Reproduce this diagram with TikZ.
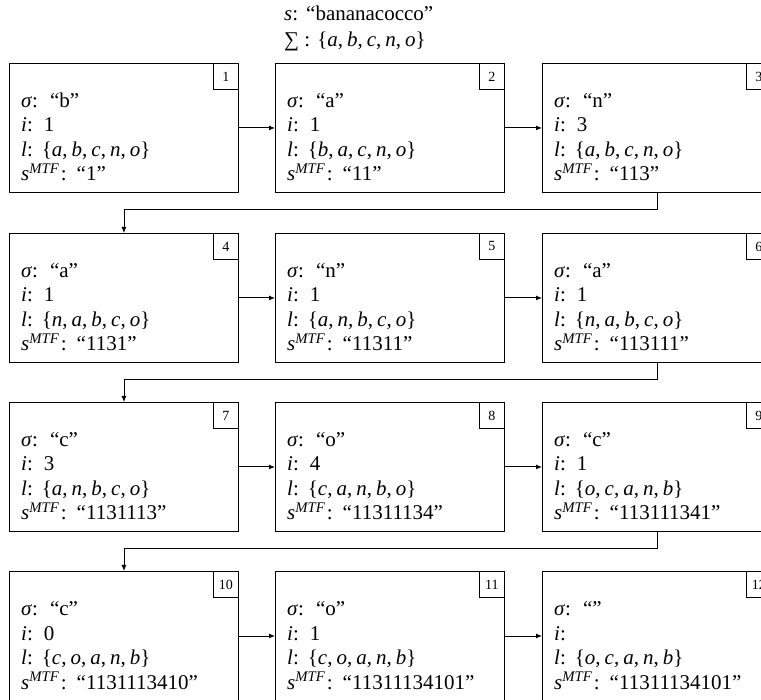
\documentclass[tikz,border=0pt]{standalone}
\usepackage{fontspec}
\setmainfont{Liberation Serif}
\usetikzlibrary{arrows.meta,calc}
\newcommand\vi[1]{\textit{#1}}
\newcommand\qs[1]{“#1”}
\newcommand\lset[5]{\{\vi{#1},\hspace{4pt}\vi{#2},\hspace{4pt}\vi{#3},\hspace{4pt}\vi{#4},\hspace{4pt}\vi{#5}\}}
\tikzset{
  box/.style={draw, line width=0.9pt, minimum width=229pt, minimum height=129pt, inner sep=0pt, anchor=north west},
  numbox/.style={draw, line width=0.9pt, minimum width=25pt, minimum height=26pt, inner sep=0pt, font=\fontsize{14}{14}\selectfont, anchor=north east},
  txt/.style={inner sep=0pt, anchor=base west, font=\fontsize{21}{22}\selectfont},
  conn/.style={line width=0.9pt, -{Latex[length=6pt,width=5pt]}}
}
\newcommand\mtfbox[8]{%
  \node[box] (#1) at (#2,#3) {};
  \node[numbox] (#1n) at (#1.north east) {#4};
  \node[txt] (#1a) at ($(#1.north west)+(12,44.5)$) {\vi{σ}:\hspace{12pt}\qs{#5}};
  \node[txt] (#1b) at ($(#1.north west)+(12,69)$) {\vi{i}:\hspace{11pt}#6};
  \node[txt] (#1c) at ($(#1.north west)+(12,93.5)$) {\vi{l}:\hspace{9pt}#7};
  \node[txt] (#1d) at ($(#1.north west)+(12,118)$) {\vi{s}\textsuperscript{\vi{MTF}}\hspace{1.5pt}:\hspace{10pt}\qs{#8}};
}
\begin{document}
\begin{tikzpicture}[x=1pt,y=-1pt]
\clip (0,0) rectangle (761,700);
\fill[white] (0,0) rectangle (761,700);
\node[txt] (title1) at (284,20.5) {\vi{s}:\hspace{8pt}\qs{bananacocco}};
\node[txt] (title2) at (284,47) {∑ : \lset{a}{b}{c}{n}{o}};
\mtfbox{b1}{9}{63}{1}{b}{1}{\lset{a}{b}{c}{n}{o}}{1}
\mtfbox{b2}{275}{63}{2}{a}{1}{\lset{b}{a}{c}{n}{o}}{11}
\mtfbox{b3}{542}{63}{3}{n}{3}{\lset{a}{b}{c}{n}{o}}{113}
\mtfbox{b4}{9}{233}{4}{a}{1}{\lset{n}{a}{b}{c}{o}}{1131}
\mtfbox{b5}{275}{233}{5}{n}{1}{\lset{a}{n}{b}{c}{o}}{11311}
\mtfbox{b6}{542}{233}{6}{a}{1}{\lset{n}{a}{b}{c}{o}}{113111}
\mtfbox{b7}{9}{402}{7}{c}{3}{\lset{a}{n}{b}{c}{o}}{1131113}
\mtfbox{b8}{275}{402}{8}{o}{4}{\lset{c}{a}{n}{b}{o}}{11311134}
\mtfbox{b9}{542}{402}{9}{c}{1}{\lset{o}{c}{a}{n}{b}}{113111341}
\mtfbox{b10}{9}{571}{10}{c}{0}{\lset{c}{o}{a}{n}{b}}{1131113410}
\mtfbox{b11}{275}{571}{11}{o}{1}{\lset{c}{o}{a}{n}{b}}{11311134101}
\mtfbox{b12}{542}{571}{12}{}{}{\lset{o}{c}{a}{n}{b}}{11311134101}
\draw[conn] (b1.east) -- (b2.west);
\draw[conn] (b2.east) -- (b3.west);
\draw[conn] (b4.east) -- (b5.west);
\draw[conn] (b5.east) -- (b6.west);
\draw[conn] (b7.east) -- (b8.west);
\draw[conn] (b8.east) -- (b9.west);
\draw[conn] (b10.east) -- (b11.west);
\draw[conn] (b11.east) -- (b12.west);
\draw[conn] (b3.south) -- ++(0,17) -| (b4.north);
\draw[conn] (b6.south) -- ++(0,17) -| (b7.north);
\draw[conn] (b9.south) -- ++(0,17) -| (b10.north);
\end{tikzpicture}
\end{document}
